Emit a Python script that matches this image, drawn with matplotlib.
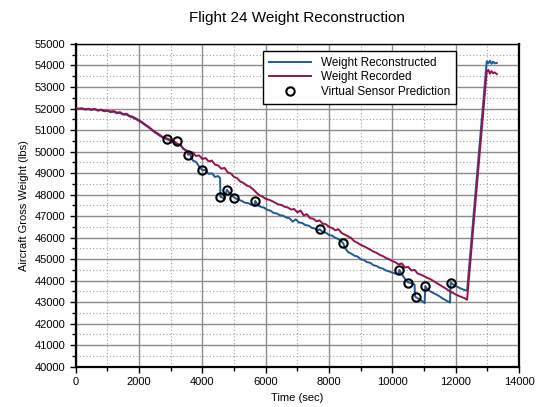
import matplotlib
matplotlib.use("Agg")
import matplotlib.pyplot as plt
import numpy as np

plt.rcParams['font.family'] = ['Liberation Sans', 'DejaVu Sans']

# Weight Recorded: 0..12300 every 100 s, then end of cruise and the refuel jump
rec_time = list(range(0, 12400, 100)) + [12360, 12980, 13030, 13080, 13130, 13180, 13230, 13300]
rec_weight = [
    52000, 51990, 52010, 51960, 51990, 51950, 51980, 51920, 51950, 51900,
    51910, 51860, 51880, 51810, 51830, 51740, 51760, 51660, 51620, 51540,
    51450, 51360, 51250, 51150, 51030, 50920, 50830, 50720, 50650, 50600,
    50530, 50480, 50370, 50300, 50140, 50010, 49900, 49960, 49790, 49820,
    49650, 49700, 49540, 49580, 49390, 49350, 49200, 49240, 49030, 48980,
    48820, 48760, 48600, 48540, 48420, 48370, 48250, 48100, 47970, 47900,
    47800, 47760, 47700, 47620, 47540, 47520, 47430, 47400, 47300, 47330,
    47170, 47260, 47030, 47090, 46900, 46880, 46760, 46800, 46650, 46620,
    46500, 46440, 46340, 46390, 46210, 46140, 46060, 45980, 45830, 45760,
    45660, 45600, 45520, 45440, 45350, 45290, 45200, 45140, 45050, 44990,
    44910, 44850, 44750, 44800, 44610, 44640, 44470, 44500, 44330, 44280,
    44210, 44130, 44070, 43980, 43890, 43800, 43710, 43620, 43520, 43440,
    43360, 43290, 43230, 43170,
    43110, 53700, 53800, 53620, 53740, 53640, 53680, 53600,
]

# Weight Reconstructed
rec_blue_time = [
    0, 100, 200, 300, 400, 500, 600, 700, 800, 900,
    1000, 1100, 1200, 1300, 1400, 1500, 1600, 1700, 1800, 1900,
    2000, 2100, 2200, 2300, 2400, 2500, 2600, 2700, 2800, 2900,
    3000, 3100, 3200, 3300, 3400, 3500, 3550, 3600, 3700, 3800, 3900,
    4000, 4100, 4200, 4300, 4400, 4500, 4560, 4570, 4650, 4700, 4772,
    4850, 4950, 5050, 5150, 5250, 5350, 5450, 5550, 5650, 5670,
    5750, 5850, 5950, 6050, 6150, 6250, 6350, 6450, 6550, 6650,
    6750, 6850, 6950, 7050, 7150, 7250, 7350, 7450, 7550, 7650, 7700,
    7800, 7900, 8000, 8100, 8200, 8300, 8400, 8450, 8500, 8600,
    8700, 8800, 8900, 9000, 9100, 9200, 9300, 9400, 9500, 9600,
    9700, 9800, 9900, 10000, 10100, 10200, 10220, 10300, 10400, 10480,
    10550, 10700, 10720, 10800, 10900, 11000, 11020, 11040, 11100, 11200,
    11300, 11400, 11500, 11600, 11700, 11820, 11840, 11950, 12050, 12150,
    12250, 12360, 12980, 13030, 13080, 13130, 13180, 13230, 13300,
]
rec_blue_weight = [
    51990, 51980, 51990, 51950, 51970, 51930, 51960, 51900, 51930, 51870,
    51890, 51830, 51850, 51780, 51800, 51710, 51720, 51630, 51580, 51500,
    51420, 51330, 51220, 51120, 51000, 50890, 50790, 50690, 50610, 50560,
    50480, 50440, 50300, 50330, 50120, 50050, 49850, 49900, 49580, 49520, 49300,
    49130, 49140, 48960, 48990, 48820, 48860, 48760, 47900, 47850, 47780, 48220,
    48080, 47930, 47820, 47760, 47700, 47620, 47600, 47530, 47460, 47710,
    47500, 47430, 47390, 47290, 47250, 47150, 47120, 47040, 47020, 46930,
    46900, 46740, 46850, 46700, 46680, 46580, 46560, 46460, 46420, 46330, 46390,
    46260, 46230, 46120, 46090, 45990, 45930, 45800, 45740, 45520, 45330,
    45260, 45160, 45120, 45000, 44960, 44860, 44830, 44720, 44680, 44600,
    44560, 44470, 44430, 44370, 44330, 44280, 44500, 44290, 44080, 43930,
    43900, 43820, 43260, 43180, 43090, 42990, 42950, 43750, 43600, 43500,
    43420, 43350, 43260, 43160, 43080, 42980, 43910, 43790, 43720, 43640,
    43580, 43530, 54190, 54100, 54220, 54080, 54180, 54100, 54120,
]

# Virtual Sensor Prediction
vs_time = [2876, 3192, 3550, 3992, 4561, 4772, 5003, 5667, 7700, 8440,
           10220, 10480, 10750, 11040, 11840]
vs_weight = [50590, 50470, 49850, 49120, 47910, 48220, 47850, 47710, 46390, 45740,
             44500, 43910, 43260, 43750, 43910]

x_ticks = list(range(0, 14001, 2000))
y_ticks = list(range(40000, 55001, 1000))

fig = plt.figure(figsize=(5.37, 4.07), dpi=100)
ax = fig.add_axes([0.141, 0.099, 0.8255, 0.793])

ax.plot(rec_blue_time, rec_blue_weight, color='#1f5a96', lw=1.4, label='Weight Reconstructed', zorder=3)
ax.plot(rec_time, rec_weight, color='#96124c', lw=1.4, label='Weight Recorded', zorder=4)
ax.plot(vs_time, vs_weight, 'o', mfc='none', mec='black', mew=1.5, ms=6,
        label='Virtual Sensor Prediction', zorder=5)

ax.set_xlim(0, 14000)
ax.set_ylim(40000, 55000)
ax.set_xticks(x_ticks)
ax.set_yticks(y_ticks)
ax.set_xticks(list(range(1000, 14000, 2000)), minor=True)
ax.set_yticks(list(range(40500, 55000, 1000)), minor=True)
ax.tick_params(axis='both', which='major', labelsize=8, length=4, width=1, direction='out')
ax.tick_params(axis='both', which='minor', length=3, width=1, direction='out')

ax.grid(which='major', color='#8c8c8c', lw=1, ls='-')
ax.grid(which='minor', color='#a0a0a0', lw=0.8, ls=(0, (1, 2)))
ax.set_axisbelow(True)

for side in ['left', 'bottom', 'right']:
    ax.spines[side].set_linewidth(1.6)
ax.spines['top'].set_linewidth(1.0)

ax.set_title('Flight 24 Weight Reconstruction', fontsize=11, pad=16)
ax.set_xlabel('Time (sec)', fontsize=8)
ax.set_ylabel('Aircraft Gross Weight (lbs)', fontsize=8)

leg = ax.legend(loc='upper left', bbox_to_anchor=(0.4225, 0.978), fontsize=8.5,
                fancybox=False, framealpha=1, edgecolor='black', borderaxespad=0,
                borderpad=0.5, handlelength=3.6, handletextpad=0.8, labelspacing=0.2)
leg.get_frame().set_linewidth(1.0)

fig.savefig('out.png', dpi=100)
